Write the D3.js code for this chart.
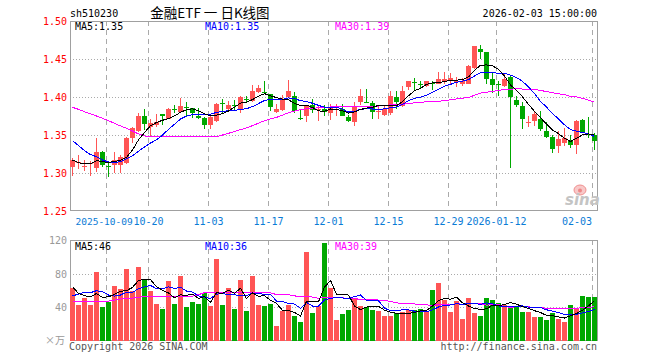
<!DOCTYPE html>
<html>
<head>
<meta charset="utf-8">
<script src="https://cdn.jsdelivr.net/npm/d3@7"></script>
<style>
  html, body { margin: 0; padding: 0; background: #fff; }
  svg { display: block; }
  text { font-family: "DejaVu Sans Mono", monospace; font-size: 10px; }
</style>
</head>
<body>
<svg id="chart" width="660" height="360"></svg>
<script>
// trading days shown
const dates = [
  '2025-09-23','2025-09-24','2025-09-25','2025-09-26','2025-09-29','2025-09-30',
  '2025-10-09','2025-10-10','2025-10-13','2025-10-14','2025-10-15','2025-10-16','2025-10-17',
  '2025-10-20','2025-10-21','2025-10-22','2025-10-23','2025-10-24','2025-10-27','2025-10-28',
  '2025-10-29','2025-10-30','2025-10-31',
  '2025-11-03','2025-11-04','2025-11-05','2025-11-06','2025-11-07','2025-11-10','2025-11-11',
  '2025-11-12','2025-11-13','2025-11-14','2025-11-17','2025-11-18','2025-11-19','2025-11-20',
  '2025-11-21','2025-11-24','2025-11-25','2025-11-26','2025-11-27','2025-11-28',
  '2025-12-01','2025-12-02','2025-12-03','2025-12-04','2025-12-05','2025-12-08','2025-12-09',
  '2025-12-10','2025-12-11','2025-12-12','2025-12-15','2025-12-16','2025-12-17','2025-12-18',
  '2025-12-19','2025-12-22','2025-12-23','2025-12-24','2025-12-25','2025-12-26','2025-12-29',
  '2025-12-30','2025-12-31',
  '2026-01-05','2026-01-06','2026-01-07','2026-01-08','2026-01-09','2026-01-12','2026-01-13',
  '2026-01-14','2026-01-15','2026-01-16','2026-01-19','2026-01-20','2026-01-21','2026-01-22',
  '2026-01-23','2026-01-26','2026-01-27','2026-01-28','2026-01-29','2026-01-30',
  '2026-02-02','2026-02-03'
];

const open = [
  1.308,1.314,1.309,1.312,1.307,1.328,1.310,1.311,1.311,1.314,
  1.346,1.356,1.375,1.361,1.364,1.378,1.372,1.385,1.381,1.387,
  1.386,1.375,1.373,1.364,1.369,1.392,1.385,1.390,1.385,1.398,
  1.395,1.407,1.407,1.404,1.381,1.383,1.401,1.402,1.373,1.375,
  1.390,1.384,1.385,1.380,1.383,1.385,1.374,1.368,1.394,1.394,
  1.393,1.381,1.377,1.380,1.400,1.389,1.414,1.420,1.417,1.415,
  1.419,1.418,1.420,1.422,1.4215,1.418,1.418,1.438,1.464,1.459,
  1.424,1.418,1.415,1.427,1.397,1.389,1.367,1.369,1.372,1.356,
  1.348,1.336,1.340,1.343,1.337,1.370,1.352,1.351
];
const high = [
  1.320,1.324,1.317,1.316,1.347,1.329,1.313,1.328,1.324,1.348,
  1.361,1.379,1.385,1.371,1.378,1.378,1.386,1.390,1.399,1.394,
  1.386,1.386,1.374,1.375,1.393,1.398,1.395,1.397,1.402,1.402,
  1.416,1.416,1.422,1.405,1.391,1.403,1.423,1.407,1.383,1.390,
  1.398,1.389,1.390,1.391,1.391,1.391,1.377,1.394,1.411,1.411,
  1.395,1.390,1.389,1.408,1.408,1.415,1.422,1.426,1.421,1.422,
  1.421,1.433,1.433,1.432,1.427,1.425,1.443,1.468,1.469,1.459,
  1.432,1.421,1.432,1.428,1.402,1.394,1.375,1.382,1.382,1.367,
  1.350,1.356,1.359,1.351,1.370,1.372,1.374,1.353
];
const low = [
  1.296,1.306,1.303,1.297,1.302,1.308,1.295,1.300,1.300,1.312,
  1.340,1.355,1.357,1.348,1.361,1.363,1.371,1.379,1.379,1.375,
  1.373,1.371,1.358,1.358,1.368,1.379,1.383,1.382,1.380,1.393,
  1.394,1.406,1.405,1.382,1.379,1.382,1.400,1.379,1.370,1.368,
  1.380,1.369,1.375,1.370,1.375,1.375,1.367,1.362,1.390,1.392,
  1.372,1.371,1.375,1.377,1.385,1.387,1.410,1.410,1.411,1.414,
  1.410,1.417,1.418,1.418,1.414,1.415,1.418,1.437,1.450,1.418,
  1.406,1.402,1.414,1.307,1.387,1.358,1.361,1.362,1.356,1.346,
  1.327,1.327,1.336,1.333,1.325,1.353,1.346,1.331
];
const close = [
  1.318,1.315,1.310,1.313,1.328,1.311,1.309,1.317,1.321,1.347,
  1.360,1.375,1.365,1.366,1.368,1.375,1.385,1.384,1.389,1.386,
  1.380,1.373,1.364,1.374,1.391,1.391,1.390,1.389,1.401,1.397,
  1.408,1.412,1.406,1.387,1.385,1.398,1.408,1.382,1.372,1.388,
  1.383,1.385,1.381,1.386,1.384,1.376,1.369,1.389,1.402,1.393,
  1.381,1.382,1.385,1.402,1.394,1.408,1.421,1.419,1.416,1.421,
  1.418,1.424,1.424,1.425,1.422,1.422,1.441,1.467,1.459,1.424,
  1.416,1.417,1.424,1.400,1.390,1.372,1.368,1.378,1.358,1.348,
  1.332,1.345,1.347,1.337,1.369,1.355,1.351,1.343
];
// volume, 10k units
const volume = [
  63.6,42.8,51.6,42.8,82.4,40.0,46.8,65.6,61.6,86.0,
  59.6,88.4,72.8,59.6,44.0,38.0,71.6,44.0,77.6,40.4,
  46.4,44.0,57.6,41.6,98.0,42.8,63.2,38.0,72.8,35.6,
  77.6,42.8,41.6,44.0,17.6,35.6,42.8,29.6,22.4,106.4,
  33.2,41.6,117.2,63.2,24.8,32.0,36.8,51.6,41.6,40.0,
  36.8,35.6,29.6,29.6,32.8,34.4,36.8,36.8,38.0,35.6,
  60.8,69.6,48.8,34.8,47.6,26.0,51.2,33.2,29.6,51.2,
  48.8,45.6,42.8,40.0,41.6,34.8,34.8,28.8,28.8,24.8,
  33.6,26.4,22.4,42.8,37.6,53.6,52.8,52.4
];

const ma5Lead = [1.3175, 1.314, 1.3125, 1.3123];
const ma10Lead = [1.343, 1.3364, 1.3298, 1.3246, 1.3219, 1.3175, 1.3149, 1.314, 1.3154];
const ma30Lead = [
  1.3868,1.3842,1.3811,1.3781,1.3754,1.3724,1.3693,1.3658,1.3623,1.3592,
  1.3557,1.3518,1.3491,1.3485,1.3482,1.348,1.348,1.348,1.348,1.348,
  1.348,1.348,1.348,1.348,1.3482,1.3504,1.3526,1.355,1.3575
];
const vma5Lead = [64.8, 56.8, 54.0, 52.8];
const vma10Lead = [53.6, 56.0, 58.0, 57.6, 60.0, 58.8, 54.8, 53.6, 54.8];
const vma30Lead = [
  47.6,47.6,47.6,47.6,47.6,47.6,47.6,48.8,50.0,50.8,
  51.2,52.0,53.2,53.2,53.2,53.2,53.2,53.2,53.2,53.2,
  53.6,55.2,57.6,57.6,57.6,57.6,57.6,57.6,57.6
];

const tickDates = ['2025-10-09','2025-10-20','2025-11-03','2025-11-17','2025-12-01',
  '2025-12-15','2025-12-29','2026-01-12','2026-02-03'];
const tickLabels = ['2025-10-09','10-20','11-03','11-17','12-01','12-15','12-29','2026-01-12','02-03'];
const priceTicks = [1.50, 1.45, 1.40, 1.35, 1.30, 1.25];
const volTicks = [120, 80, 40];
const mainLegend = ['MA5:1.35', 'MA10:1.35', 'MA30:1.39'];
const volLegend = ['MA5:46', 'MA10:36', 'MA30:39'];

const RED = '#ff5555', GREEN = '#00a800';
const maColors = ['#000000', '#0000ff', '#ff00ff'];
const legendX = [75, 205, 335];

const svg = d3.select('#chart');
const L = 70, R = 597;

const x = d3.scaleBand().domain(dates).range([70, 598]);
const cx = d => x(d) + 2.5;
const y = d3.scaleLinear().domain([1.25, 1.50]).range([211.3, 21.3]);
const yv = d3.scaleLinear().domain([0, 120]).range([340.7, 240.7]);

function movingAvg(values, n, lead) {
  return values.map((v, i) => i < n - 1 ? lead[i] : d3.mean(values.slice(i - n + 1, i + 1)));
}

const days = dates.map((d, i) => ({
  date: d, o: open[i], h: high[i], l: low[i], c: close[i], v: volume[i]
}));

// header
svg.append('text').attr('x', 70).attr('y', 17).text('sh510230');
svg.append('text').attr('x', 210).attr('y', 18).attr('text-anchor', 'middle')
  .style('font-family', '"Noto Sans CJK SC", sans-serif').style('font-size', '13.5px')
  .text('金融ETF 一 日K线图');
svg.append('text').attr('x', 597).attr('y', 17).attr('text-anchor', 'end').text('2026-02-03 15:00:00');

function panel(top, bottom, hLines, yScale) {
  const g = svg.append('g').attr('shape-rendering', 'crispEdges');
  g.selectAll('.vg').data(tickDates).enter().append('line')
    .attr('x1', d => x(d) + 0.5).attr('x2', d => x(d) + 0.5)
    .attr('y1', top).attr('y2', bottom)
    .attr('stroke', '#aaa').attr('stroke-dasharray', '5,4');
  g.selectAll('.hg').data(hLines).enter().append('line')
    .attr('x1', L).attr('x2', R)
    .attr('y1', d => Math.round(yScale(d)) + 0.5).attr('y2', d => Math.round(yScale(d)) + 0.5)
    .attr('stroke', '#aaa').attr('stroke-dasharray', '1,2');
  g.append('rect').attr('x', L + 0.5).attr('y', top + 0.5)
    .attr('width', R - L).attr('height', bottom - top)
    .attr('fill', 'none').attr('stroke', '#a0a0a0');
}

panel(21, 210, [1.45, 1.40, 1.35, 1.30], y);
panel(240, 340, [80, 40], yv);

// sina watermark
const wm = svg.append('g');
wm.append('ellipse').attr('cx', 580).attr('cy', 190).attr('rx', 6).attr('ry', 5)
  .attr('fill', '#f8c8c8').attr('stroke', '#f09090');
wm.append('circle').attr('cx', 580).attr('cy', 190.5).attr('r', 2).attr('fill', '#e88');
wm.append('text').attr('x', 565).attr('y', 205)
  .style('font-family', '"DejaVu Sans", sans-serif').style('font-size', '15px')
  .style('font-weight', 'bold').style('font-style', 'italic')
  .attr('fill', '#c4c4c4').text('sina');

// price labels
svg.selectAll('.pl').data(priceTicks).enter().append('text')
  .attr('x', 67).attr('y', d => y(d) + 4).attr('text-anchor', 'end')
  .attr('fill', '#ff0000').text(d => d.toFixed(2));

// date labels: first one starts at the left edge, last one ends at the right edge
const nTicks = tickDates.length;
svg.selectAll('.dl').data(tickDates).enter().append('text')
  .attr('x', (d, i) => i === 0 ? 75.5 : i === nTicks - 1 ? 592 : x(d) + 0.5)
  .attr('text-anchor', (d, i) => i === 0 ? 'start' : i === nTicks - 1 ? 'end' : 'middle')
  .style('font-size', (d, i) => i === 0 ? '9.5px' : null)
  .attr('y', 225).attr('fill', '#0a7bd6')
  .text((d, i) => tickLabels[i]);

// candles
const cg = svg.append('g').attr('shape-rendering', 'crispEdges');
const col = d => d.c >= d.o ? RED : GREEN;
cg.selectAll('.wick').data(days).enter().append('line')
  .attr('x1', d => cx(d.date)).attr('x2', d => cx(d.date))
  .attr('y1', d => y(d.h)).attr('y2', d => y(d.l))
  .attr('stroke', col);
cg.selectAll('.body').data(days).enter().append('rect')
  .attr('x', d => x(d.date)).attr('width', 5)
  .attr('y', d => y(Math.max(d.o, d.c)))
  .attr('height', d => Math.max(1, Math.abs(y(d.o) - y(d.c))))
  .attr('fill', col);

// volume bars
cg.selectAll('.vol').data(days).enter().append('rect')
  .attr('x', d => x(d.date)).attr('width', 5)
  .attr('y', d => yv(d.v)).attr('height', d => yv(0) - yv(d.v))
  .attr('fill', col);

// moving averages
const mainMA = [movingAvg(close, 5, ma5Lead), movingAvg(close, 10, ma10Lead), movingAvg(close, 30, ma30Lead)];
const volMA = [movingAvg(volume, 5, vma5Lead), movingAvg(volume, 10, vma10Lead), movingAvg(volume, 30, vma30Lead)];
const lg = svg.append('g').attr('fill', 'none').attr('shape-rendering', 'crispEdges');
[2, 1, 0].forEach(k => {
  lg.append('path').datum(mainMA[k])
    .attr('d', d3.line().x((v, i) => cx(dates[i])).y(v => y(v)))
    .attr('stroke', maColors[k]);
  lg.append('path').datum(volMA[k])
    .attr('d', d3.line().x((v, i) => cx(dates[i])).y(v => yv(v)))
    .attr('stroke', maColors[k]);
});

// legends
mainLegend.forEach((t, k) => {
  svg.append('text').attr('x', legendX[k]).attr('y', 30).attr('fill', maColors[k]).text(t);
});
volLegend.forEach((t, k) => {
  svg.append('text').attr('x', legendX[k]).attr('y', 250).attr('fill', maColors[k]).text(t);
});

// volume labels
svg.selectAll('.vl').data(volTicks).enter().append('text')
  .attr('x', 67).attr('y', d => yv(d) + 3.5).attr('text-anchor', 'end')
  .attr('fill', '#999').text(d => d);
svg.append('text').attr('x', 65).attr('y', 344).attr('text-anchor', 'end')
  .style('font-family', '"Noto Sans CJK SC", sans-serif').style('font-size', '10px')
  .attr('fill', '#999').text('×万');

// footer
svg.append('text').attr('x', 69).attr('y', 350).attr('fill', '#555').text('Copyright 2026 SINA.COM');
svg.append('text').attr('x', 597).attr('y', 350).attr('text-anchor', 'end').attr('fill', '#555')
  .text('http://finance.sina.com.cn');
</script>
</body>
</html>
